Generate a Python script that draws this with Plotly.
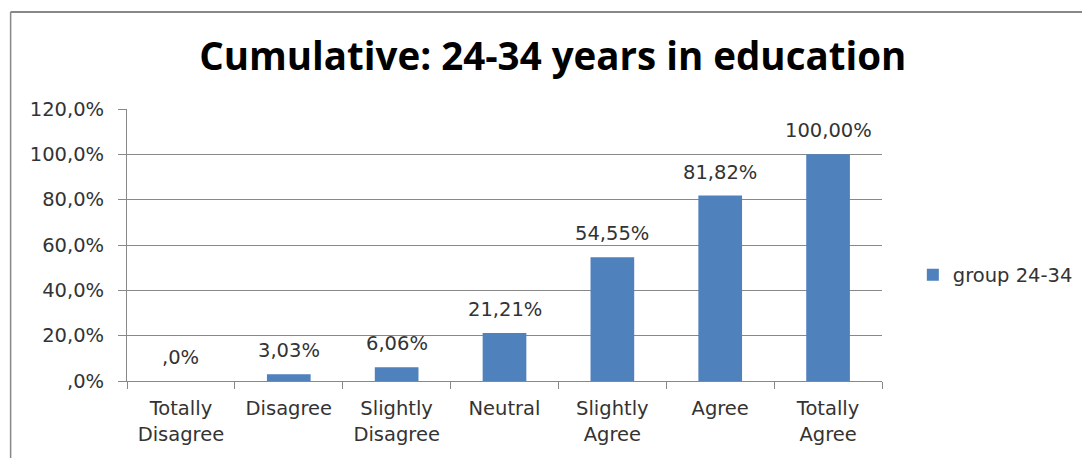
import plotly.graph_objects as go

categories = ["Totally<br>Disagree", "Disagree", "Slightly<br>Disagree", "Neutral",
              "Slightly<br>Agree", "Agree", "Totally<br>Agree"]
values = [0.0, 3.03, 6.06, 21.21, 54.55, 81.82, 100.0]
value_labels = [",0%", "3,03%", "6,06%", "21,21%", "54,55%", "81,82%", "100,00%"]
tick_vals = [0, 20, 40, 60, 80, 100, 120]
tick_text = [",0%", "20,0%", "40,0%", "60,0%", "80,0%", "100,0%", "120,0%"]
series_name = "group 24-34"

OFF = 8  # page body margin
W, H = 1090 - OFF, 458 - OFF
# plot area in reference pixel coords
PL, PR, PT, PB = 127, 886, 109, 381
L, R, T, B = PL - OFF, W - (PR - OFF), PT - OFF, H - (PB - OFF)
pw, ph = W - L - R, H - T - B


def px_x(x):
    return (x - OFF - L) / pw


def px_y(y):
    return (H - B - (y - OFF)) / ph


fnt = "DejaVu Sans"
tcol = "#333333"
gcol = "#888888"

fig = go.Figure()
fig.add_trace(go.Bar(
    x=categories, y=values, name=series_name,
    marker=dict(color="#4F81BD", line=dict(width=0)),
    width=0.405,
    showlegend=True,
))

for c, v, t in zip(categories, values, value_labels):
    fig.add_annotation(x=c, y=v, text=t, showarrow=False,
                       xanchor="center", yanchor="bottom", yshift=10,
                       font=dict(family=fnt, size=19.5, color=tcol))

fig.update_layout(
    width=W, height=H,
    margin=dict(l=L, r=R, t=T, b=B),
    paper_bgcolor="white", plot_bgcolor="white",
    title=dict(text="<b>Cumulative: 24-34 years in education</b>",
               x=px_x(555), xref="paper", xanchor="center",
               y=1 - (57 - OFF) / H, yref="container", yanchor="middle",
               font=dict(family="Open Sans", size=38.5, color="black")),
    xaxis=dict(showline=True, linecolor=gcol, linewidth=1,
               ticks="outside", ticklen=7, tickcolor=gcol,
               tickson="boundaries", ticklabelstandoff=10,
               tickfont=dict(family=fnt, size=19.5, color=tcol),
               showgrid=False),
    yaxis=dict(range=[0, 120], tickvals=tick_vals, ticktext=tick_text,
               showline=True, linecolor=gcol, linewidth=1,
               ticks="outside", ticklen=8, tickcolor=gcol,
               gridcolor=gcol, gridwidth=1, ticklabelstandoff=10,
               tickfont=dict(family=fnt, size=19.5, color=tcol),
               zeroline=False),
    legend=dict(x=px_x(917), y=px_y(275), xanchor="left", yanchor="middle",
                font=dict(family=fnt, size=19.5, color=tcol),
                itemwidth=30, bgcolor="rgba(0,0,0,0)"),
)

fig.add_shape(type="line", xref="paper", yref="paper",
              x0=px_x(10), x1=px_x(1090), y0=px_y(12), y1=px_y(12),
              line=dict(color=gcol, width=2))
fig.add_shape(type="line", xref="paper", yref="paper",
              x0=px_x(10), x1=px_x(10), y0=px_y(12), y1=px_y(458),
              line=dict(color=gcol, width=1.5))

fig.write_html("out.html")
